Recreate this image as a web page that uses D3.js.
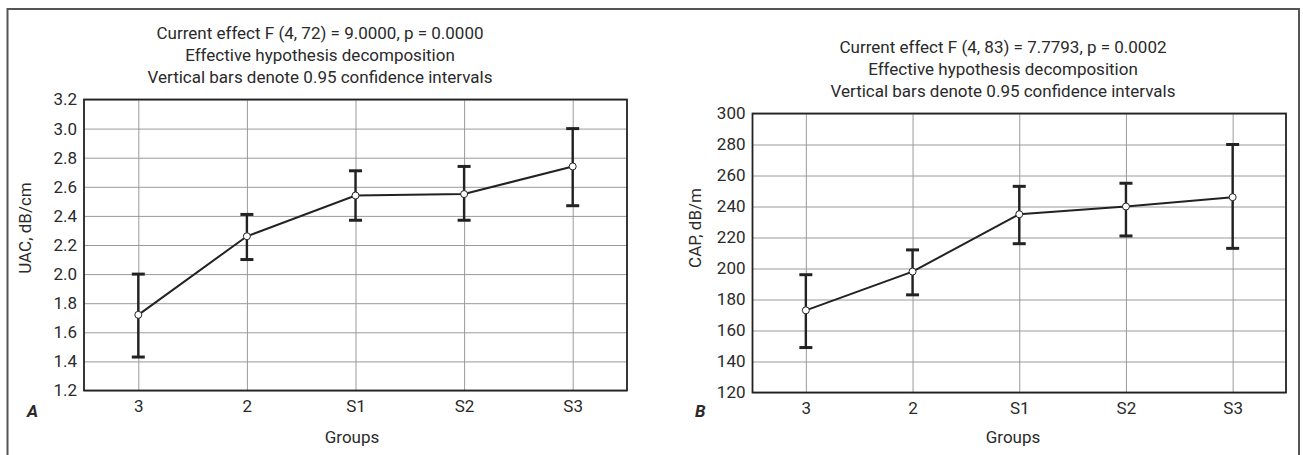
<!DOCTYPE html>
<html>
<head>
<meta charset="utf-8">
<script src="https://cdn.jsdelivr.net/npm/d3@7"></script>
<style>
  html, body { margin: 0; padding: 0; background: #fff; }
  svg { display: block; }
  text { font-family: Roboto, "Liberation Sans", sans-serif; fill: #2a2a2a; }
</style>
</head>
<body>
<svg id="chart" width="1303" height="455"></svg>
<script>
// ---- data ----
const groups = ["3", "2", "S1", "S2", "S3"];

const uacMean  = [1.72, 2.26, 2.54, 2.55, 2.74];
const uacLower = [1.43, 2.10, 2.37, 2.37, 2.47];
const uacUpper = [2.00, 2.41, 2.71, 2.74, 3.00];
const uacTicks = [1.2, 1.4, 1.6, 1.8, 2.0, 2.2, 2.4, 2.6, 2.8, 3.0, 3.2];
const uacTitle = ["Current effect F (4, 72) = 9.0000, p = 0.0000",
                  "Effective hypothesis decomposition",
                  "Vertical bars denote 0.95 confidence intervals"];

const capMean  = [173, 198, 235, 240, 246];
const capLower = [149, 183, 216, 221, 213];
const capUpper = [196, 212, 253, 255, 280];
const capTicks = [120, 140, 160, 180, 200, 220, 240, 260, 280, 300];
const capTitle = ["Current effect F (4, 83) = 7.7793, p = 0.0002",
                  "Effective hypothesis decomposition",
                  "Vertical bars denote 0.95 confidence intervals"];

const svg = d3.select("#chart");

// outer frame
svg.append("rect")
  .attr("x", 7.5).attr("y", 9).attr("width", 1291.5).attr("height", 470)
  .attr("fill", "none").attr("stroke", "#555").attr("stroke-width", 2);

function panel(cfg) {
  const g = svg.append("g");
  const x = d3.scalePoint().domain(groups).range([cfg.left, cfg.right]).padding(0.5);
  const y = d3.scaleLinear().domain([cfg.ticks[0], cfg.ticks[cfg.ticks.length - 1]])
              .range([cfg.bottom, cfg.top]);
  const w = cfg.right - cfg.left, h = cfg.bottom - cfg.top;

  // horizontal gridlines
  g.append("g").attr("transform", `translate(${cfg.left},0)`)
    .call(d3.axisLeft(y).tickValues(cfg.ticks).tickSize(-w).tickFormat(""))
    .call(s => s.select(".domain").remove())
    .call(s => s.selectAll("line").attr("stroke", "#9a9a9a").attr("stroke-width", 1));
  // vertical gridlines
  g.append("g").attr("transform", `translate(0,${cfg.bottom})`)
    .call(d3.axisBottom(x).tickSize(-h).tickFormat(""))
    .call(s => s.select(".domain").remove())
    .call(s => s.selectAll("line").attr("stroke", "#9a9a9a").attr("stroke-width", 1));

  // frame
  g.append("rect").attr("x", cfg.left).attr("y", cfg.top).attr("width", w).attr("height", h)
    .attr("fill", "none").attr("stroke", "#222").attr("stroke-width", 1.8);

  // y tick labels
  g.append("g").attr("transform", `translate(${cfg.left},0)`)
    .call(d3.axisLeft(y).tickValues(cfg.ticks).tickSize(0).tickPadding(7).tickFormat(cfg.fmt))
    .call(s => s.select(".domain").remove())
    .call(s => s.selectAll("text").attr("font-size", 17).attr("fill", "#2a2a2a")
                 .attr("font-family", "Roboto, 'Liberation Sans', sans-serif"));
  // x tick labels
  g.append("g").attr("transform", `translate(0,${cfg.bottom})`)
    .call(d3.axisBottom(x).tickSize(0).tickPadding(9))
    .call(s => s.select(".domain").remove())
    .call(s => s.selectAll("text").attr("font-size", 17).attr("fill", "#2a2a2a")
                 .attr("font-family", "Roboto, 'Liberation Sans', sans-serif"));

  // error bars
  const idx = d3.range(groups.length);
  const capW = 13;
  g.selectAll(".eb").data(idx).join("line")
    .attr("x1", i => x(groups[i])).attr("x2", i => x(groups[i]))
    .attr("y1", i => y(cfg.lower[i])).attr("y2", i => y(cfg.upper[i]))
    .attr("stroke", "#222").attr("stroke-width", 2.4);
  g.selectAll(".capU").data(idx).join("line")
    .attr("x1", i => x(groups[i]) - capW / 2).attr("x2", i => x(groups[i]) + capW / 2)
    .attr("y1", i => y(cfg.upper[i])).attr("y2", i => y(cfg.upper[i]))
    .attr("stroke", "#222").attr("stroke-width", 3);
  g.selectAll(".capL").data(idx).join("line")
    .attr("x1", i => x(groups[i]) - capW / 2).attr("x2", i => x(groups[i]) + capW / 2)
    .attr("y1", i => y(cfg.lower[i])).attr("y2", i => y(cfg.lower[i]))
    .attr("stroke", "#222").attr("stroke-width", 3);

  // mean line
  g.append("path").datum(idx)
    .attr("d", d3.line().x(i => x(groups[i])).y(i => y(cfg.mean[i])))
    .attr("fill", "none").attr("stroke", "#222").attr("stroke-width", 2);
  // markers
  g.selectAll(".pt").data(idx).join("circle")
    .attr("cx", i => x(groups[i])).attr("cy", i => y(cfg.mean[i])).attr("r", 3.5)
    .attr("fill", "#fff").attr("stroke", "#222").attr("stroke-width", 1);

  // title
  cfg.title.forEach((t, k) => {
    g.append("text").attr("x", cfg.titleX).attr("y", cfg.titleY + k * 22.2)
      .attr("text-anchor", "middle").attr("font-size", 17).text(t);
  });
  // y axis label
  g.append("text")
    .attr("transform", `translate(${cfg.yLabX},${cfg.yLabY}) rotate(-90)`)
    .attr("text-anchor", "middle").attr("font-size", 17).text(cfg.yLabel);
  // x axis label
  g.append("text").attr("x", cfg.xLabX).attr("y", 443)
    .attr("text-anchor", "middle").attr("font-size", 17).text("Groups");
  // panel letter
  g.append("text").attr("x", cfg.letterX).attr("y", 417)
    .attr("font-size", 17).attr("font-weight", "bold").attr("font-style", "italic")
    .text(cfg.letter);
}

panel({
  left: 84, right: 627, top: 99.5, bottom: 390.5,
  ticks: uacTicks, fmt: d3.format(".1f"),
  mean: uacMean, lower: uacLower, upper: uacUpper,
  title: uacTitle, titleX: 320, titleY: 39,
  yLabel: "UAC, dB/cm", yLabX: 31, yLabY: 228,
  xLabX: 352, letter: "A", letterX: 27
});

panel({
  left: 752.5, right: 1286, top: 113.5, bottom: 392.5,
  ticks: capTicks, fmt: d3.format("d"),
  mean: capMean, lower: capLower, upper: capUpper,
  title: capTitle, titleX: 1003, titleY: 52.5,
  yLabel: "CAP, dB/m", yLabX: 701, yLabY: 228,
  xLabX: 1013, letter: "B", letterX: 695
});
</script>
</body>
</html>
